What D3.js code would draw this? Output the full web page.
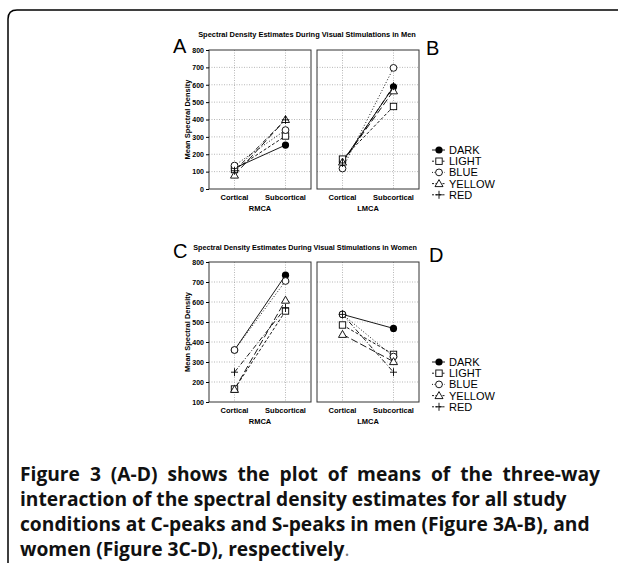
<!DOCTYPE html>
<html>
<head>
<meta charset="utf-8">
<script src="https://cdn.jsdelivr.net/npm/d3@7"></script>
<style>
  body { margin: 0; background: #fff; }
  text { font-family: "Liberation Sans", Arial, sans-serif; }
</style>
</head>
<body>
<div id="chart"></div>
<script>
// conditions and x categories
const conditions = ["DARK", "LIGHT", "BLUE", "YELLOW", "RED"];
const regions = ["Cortical", "Subcortical"];

// men (A = RMCA, B = LMCA), one value per condition
const menRmcaCortical    = [120, 112, 135, 80, 105];
const menRmcaSubcortical = [253, 305, 339, 400, 398];
const menLmcaCortical    = [157, 172, 118, 155, 150];
const menLmcaSubcortical = [588, 475, 697, 565, 592];

// women (C = RMCA, D = LMCA)
const womenRmcaCortical    = [360, 165, 360, 163, 249];
const womenRmcaSubcortical = [734, 555, 705, 609, 570];
const womenLmcaCortical    = [538, 485, 538, 438, 538];
const womenLmcaSubcortical = [468, 338, 327, 302, 249];

const menTicks = [0, 100, 200, 300, 400, 500, 600, 700, 800];
const womenTicks = [100, 200, 300, 400, 500, 600, 700, 800];

// styles per condition
const dashes = ["none", "3,2", "1,2", "7,3", "5,2,1,2"];
const symbols = ["dot", "square", "circle", "triangle", "plus"];

const W = 618, H = 566;
const svg = d3.select("#chart").append("svg")
  .attr("width", W).attr("height", H);
svg.append("rect").attr("width", W).attr("height", H).attr("fill", "white");

// outer frame: left + top with rounded corner
svg.append("path")
  .attr("d", "M8,563 V19 Q8,10 17,10 H618")
  .attr("fill", "none").attr("stroke", "black").attr("stroke-width", 1.5);

function marker(g, type, x, y)
{
  if (type == "dot") {
    g.append("circle").attr("cx", x).attr("cy", y).attr("r", 3.6).attr("fill", "black");
  } else if (type == "circle") {
    g.append("circle").attr("cx", x).attr("cy", y).attr("r", 3.4)
      .attr("fill", "white").attr("stroke", "black").attr("stroke-width", 0.9);
  } else if (type == "square") {
    g.append("rect").attr("x", x - 3.2).attr("y", y - 3.2).attr("width", 6.4).attr("height", 6.4)
      .attr("fill", "white").attr("stroke", "black").attr("stroke-width", 0.9);
  } else if (type == "triangle") {
    g.append("path").attr("d", `M${x},${y - 4}L${x + 4},${y + 3}L${x - 4},${y + 3}Z`)
      .attr("fill", "white").attr("stroke", "black").attr("stroke-width", 0.9);
  } else {
    g.append("path").attr("d", `M${x - 3.5},${y}H${x + 3.5}M${x},${y - 4}V${y + 4}`)
      .attr("fill", "none").attr("stroke", "black").attr("stroke-width", 0.9);
  }
}

function drawPanel(x0, x1, y0, y1, ticks, cort, subc, withAxis, areaName)
{
  const g = svg.append("g");
  const x = d3.scalePoint().domain(regions).range([x0, x1]).padding(0.5);
  const y = d3.scaleLinear().domain([ticks[0], ticks[ticks.length - 1]]).range([y1, y0]);

  // grid
  g.selectAll(".hg").data(ticks.slice(1, -1)).enter().append("line")
    .attr("x1", x0).attr("x2", x1).attr("y1", d => y(d)).attr("y2", d => y(d))
    .attr("stroke", "#999").attr("stroke-width", 0.7).attr("stroke-dasharray", "1,1.5");
  g.selectAll(".vg").data(regions).enter().append("line")
    .attr("x1", d => x(d)).attr("x2", d => x(d)).attr("y1", y0).attr("y2", y1)
    .attr("stroke", "#999").attr("stroke-width", 0.7).attr("stroke-dasharray", "1,1.5");

  g.append("rect").attr("x", x0).attr("y", y0).attr("width", x1 - x0).attr("height", y1 - y0)
    .attr("fill", "none").attr("stroke", "#333").attr("stroke-width", 1);

  if (withAxis) {
    const ax = g.append("g").attr("transform", `translate(${x0},0)`)
      .call(d3.axisLeft(y).tickValues(ticks).tickSize(3).tickPadding(2));
    ax.select(".domain").remove();
    ax.selectAll("text").style("font-size", "7px").style("font-weight", "bold")
      .style("font-family", "'Liberation Sans', Arial, sans-serif");
    g.append("text")
      .attr("transform", `translate(${x0 - 19},${(y0 + y1) / 2}) rotate(-90)`)
      .attr("text-anchor", "middle").style("font-size", "7.5px").style("font-weight", "bold")
      .text("Mean Spectral Density");
  }

  g.selectAll(".xl").data(regions).enter().append("text")
    .attr("x", d => x(d)).attr("y", y1 + 11)
    .attr("text-anchor", "middle").style("font-size", "7.5px").style("font-weight", "bold")
    .text(d => d);
  g.append("text").attr("x", (x0 + x1) / 2).attr("y", y1 + 22)
    .attr("text-anchor", "middle").style("font-size", "7.5px").style("font-weight", "bold")
    .text(areaName);

  for (var i = 0; i < conditions.length; i++) {
    g.append("line")
      .attr("x1", x(regions[0])).attr("y1", y(cort[i]))
      .attr("x2", x(regions[1])).attr("y2", y(subc[i]))
      .attr("stroke", "black").attr("stroke-width", 0.9)
      .attr("stroke-dasharray", dashes[i]);
  }
  for (var i = 0; i < conditions.length; i++) {
    marker(g, symbols[i], x(regions[0]), y(cort[i]));
    marker(g, symbols[i], x(regions[1]), y(subc[i]));
  }
}

function drawLegend(lx, ly)
{
  const g = svg.append("g");
  for (var i = 0; i < conditions.length; i++) {
    const yy = ly + i * 11.2;
    g.append("line").attr("x1", lx).attr("x2", lx + 13).attr("y1", yy).attr("y2", yy)
      .attr("stroke", "black").attr("stroke-width", 0.9)
      .attr("stroke-dasharray", i == 0 ? "none" : (i == 2 ? "1,1.5" : "2,1.5"));
    marker(g, symbols[i], lx + 7, yy);
    g.append("text").attr("x", lx + 17).attr("y", yy + 4)
      .style("font-size", "11px").text(conditions[i]);
  }
}

// narrow bold title, shrunk until it fits the wanted width
function title(txt, cx, by, len)
{
  const t = svg.append("text").attr("x", cx).attr("y", by).attr("text-anchor", "middle")
    .style("font-family", "'Liberation Sans Narrow', 'Liberation Sans', Arial, sans-serif")
    .style("font-size", "8.5px").style("font-weight", "bold").text(txt);
  const w = t.node().getComputedTextLength();
  if (w > len) t.style("font-size", (8.5 * len / w) + "px");
}

function letter(l, x, by)
{
  svg.append("text").attr("x", x).attr("y", by).style("font-size", "20px").text(l);
}

// top: men
title("Spectral Density Estimates During Visual Stimulations in Men", 307, 37, 218);
letter("A", 173, 53);
letter("B", 426, 55);
drawPanel(209, 311, 50, 189, menTicks, menRmcaCortical, menRmcaSubcortical, true, "RMCA");
drawPanel(317, 419, 50, 189, menTicks, menLmcaCortical, menLmcaSubcortical, false, "LMCA");
drawLegend(432, 150);

// bottom: women
title("Spectral Density Estimates During Visual Stimulations in Women", 305, 250, 224);
letter("C", 173, 258);
letter("D", 429, 262);
drawPanel(209, 311, 262, 402, womenTicks, womenRmcaCortical, womenRmcaSubcortical, true, "RMCA");
drawPanel(317, 419, 262, 402, womenTicks, womenLmcaCortical, womenLmcaSubcortical, false, "LMCA");
drawLegend(432, 362);

// caption (bold), sized so the third line reaches x=590; first line spread to the margin
const capLines = [
  "Figure 3 (A-D) shows the plot of means of the three-way",
  "interaction of the spectral density estimates for all study",
  "conditions at C-peaks and S-peaks in men (Figure 3A-B), and",
  "women (Figure 3C-D), respectively"
];
const probe = svg.append("text").style("font-family", "'Open Sans', sans-serif")
  .style("font-size", "20px").style("font-weight", "bold").text(capLines[2]);
const capSize = 20 * 570 / probe.node().getComputedTextLength();
probe.remove();

capLines.forEach(function(line, k) {
  const t = svg.append("text").attr("x", 20).attr("y", 481 + k * 25)
    .style("font-family", "'Open Sans', sans-serif").style("font-size", capSize + "px")
    .style("font-weight", "bold").style("fill", "#111").text(line);
  if (k == 0) {
    const len = t.node().getComputedTextLength();
    t.style("word-spacing", ((600 - 20 - len) / (line.split(" ").length - 1)) + "px");
  }
  if (k == 3) {
    t.append("tspan").style("font-weight", "normal").style("fill", "#777").text(".");
  }
});
</script>
</body>
</html>
